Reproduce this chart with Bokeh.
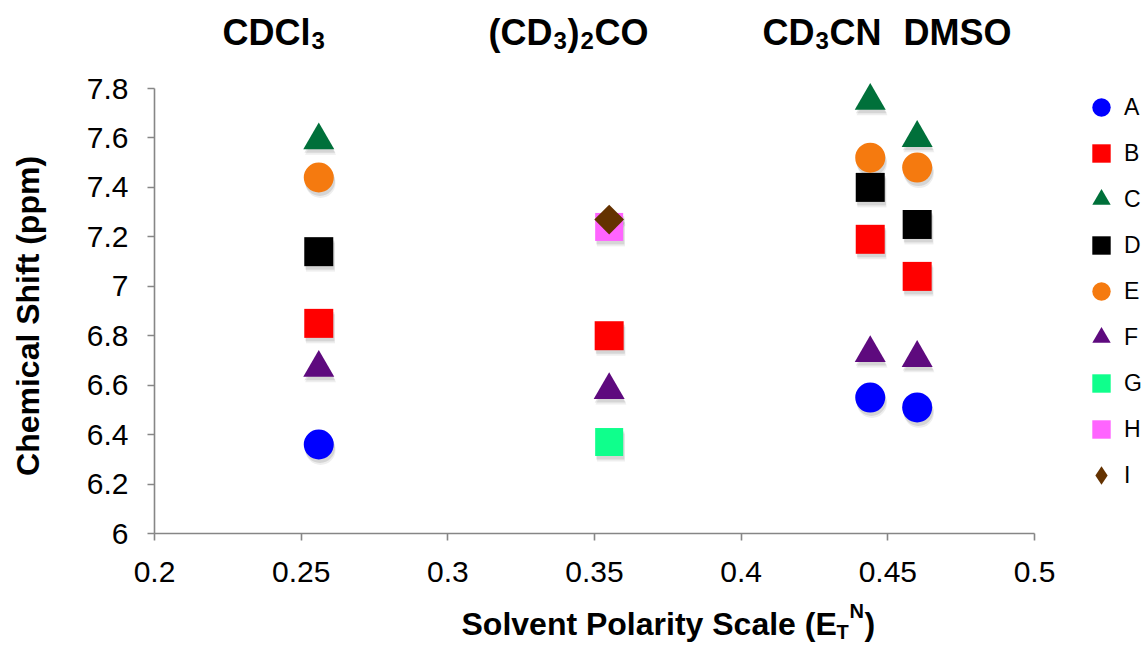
from bokeh.plotting import figure
from bokeh.models import Range1d, FixedTicker, Legend, LegendItem, ColumnDataSource
from bokeh.transform import dodge
from bokeh.embed import file_html
from bokeh.resources import INLINE
from bokeh.core.properties import value
import math

# ---------------- data ----------------
solvents = ["CDCl3", "(CD3)2CO", "CD3CN", "DMSO"]
polarity = [0.256, 0.355, 0.444, 0.460]   # E_T^N of each solvent

series_names = ["A", "B", "C", "D", "E", "F", "G", "H", "I"]
A = [6.36, None, 6.55, 6.51]
B = [6.85, 6.80, 7.19, 7.04]
C = [7.59, None, 7.75, 7.60]
D = [7.14, None, 7.40, 7.25]
E = [7.44, None, 7.52, 7.48]
F = [6.67, 6.58, 6.73, 6.71]
G = [None, 6.37, None, None]
H = [None, 7.24, None, None]
I = [None, 7.27, None, None]
series_values = [A, B, C, D, E, F, G, H, I]

x_ticks = [0.2, 0.25, 0.3, 0.35, 0.4, 0.45, 0.5]
x_tick_labels = ["0.2", "0.25", "0.3", "0.35", "0.4", "0.45", "0.5"]
y_ticks = [6.0, 6.2, 6.4, 6.6, 6.8, 7.0, 7.2, 7.4, 7.6, 7.8]
y_tick_labels = ["6", "6.2", "6.4", "6.6", "6.8", "7", "7.2", "7.4", "7.6", "7.8"]

# ---------------- styles ----------------
colors = ["#0000FF", "#FF0000", "#00703A", "#000000", "#F57A0F",
          "#5E0A7E", "#0FFF8C", "#FF64FF", "#643200"]
markers = ["circle", "square", "triangle", "square", "circle",
           "triangle", "square", "square", "square"]
legend_markers = ["circle", "square", "triangle", "square", "circle",
                  "triangle", "square", "square", "diamond"]
sizes = [30, 29, 31, 29, 30, 31, 28, 28, 21]
angles = [0, 0, 0, 0, 0, 0, 0, 0, math.pi / 4]

# layout geometry (page pixels)
W, H_ = 1144, 660
FL, FR, FT, FB = 154, 1034, 88, 533          # where 0.2 / 0.5 / 7.8 / 6 sit
X0, X1 = 0.2, 0.5
Y0, Y1 = 6.0, 7.8
x_end = X0 + (X1 - X0) * (W - FL) / (FR - FL)   # frame extends to the right edge (legend area)

p = figure(width=W, height=H_, output_backend="svg", toolbar_location=None,
           x_range=Range1d(X0, x_end), y_range=Range1d(Y0, Y1),
           min_border_left=FL, min_border_right=0,
           min_border_top=FT, min_border_bottom=H_ - FB)
p.outline_line_color = None
p.xgrid.visible = False
p.ygrid.visible = False
p.background_fill_color = "white"
p.border_fill_color = "white"

axis_col = "#868686"
for ax in (p.xaxis, p.yaxis):
    ax.axis_line_color = axis_col
    ax.axis_line_width = 1.6
    ax.major_tick_line_color = axis_col
    ax.major_tick_line_width = 1.6
    ax.major_tick_out = 7
    ax.major_tick_in = 0
    ax.minor_tick_line_color = None
    ax.major_label_text_font = "Liberation Sans"
    ax.major_label_text_font_size = "30px"
    ax.major_label_text_color = "black"

p.xaxis.bounds = (X0, X1)
p.xaxis.ticker = FixedTicker(ticks=x_ticks)
p.xaxis.major_label_overrides = {t: l for t, l in zip(x_ticks, x_tick_labels)}
p.xaxis.major_label_standoff = 21
p.yaxis.ticker = FixedTicker(ticks=y_ticks)
p.yaxis.major_label_overrides = {t: l for t, l in zip(y_ticks, y_tick_labels)}
p.yaxis.major_label_standoff = 19

# ---------------- markers ----------------
sources = []
for name, vals in zip(series_names, series_values):
    xs = [x for x, v in zip(polarity, vals) if v is not None]
    ys = [v for v in vals if v is not None]
    sources.append(ColumnDataSource(data=dict(x=xs, y=ys)))

# soft drop shadows
for (dxs, dys, alpha) in [(0.0006, -0.022, 0.10), (0.0004, -0.014, 0.16)]:
    for src, mk, sz, ang in zip(sources, markers, sizes, angles):
        p.scatter(x=dodge("x", dxs, range=p.x_range), y=dodge("y", dys, range=p.y_range),
                  source=src, marker=mk, size=sz, angle=ang,
                  fill_color="#555555", fill_alpha=alpha, line_color=None, level="overlay")

renderers = []
for src, mk, sz, ang, col in zip(sources, markers, sizes, angles, colors):
    r = p.scatter(x="x", y="y", source=src, marker=mk, size=sz, angle=ang,
                  fill_color=col, line_color=None, level="overlay")
    renderers.append(r)

# legend swatches (legend glyphs ignore marker rotation, so the diamond swatch is its own
# zero-size glyph on the same data)
legend_renderers = []
for src, r, lm, col, mk in zip(sources, renderers, legend_markers, colors, markers):
    if lm == mk:
        legend_renderers.append(r)
    else:
        sw = p.scatter(x="x", y="y", source=src, marker=lm, size=0,
                       fill_color=col, line_color=None)
        legend_renderers.append(sw)

legend = Legend(items=[LegendItem(label=n, renderers=[r]) for n, r in zip(series_names, legend_renderers)],
                location=(1078 - FL, 35), orientation="vertical",
                glyph_width=46, glyph_height=46, spacing=0, padding=0, margin=0,
                label_standoff=0, label_text_font="Liberation Sans",
                label_text_font_size="23px", label_text_color="black", label_height=46,
                border_line_color=None, background_fill_alpha=0)
p.add_layout(legend)


# ---------------- text (titles & axis labels) ----------------
def dxp(px):
    return X0 + (px - FL) / (FR - FL) * (X1 - X0)


def dyp(py):
    return Y0 + (FB - py) / (FB - FT) * (Y1 - Y0)


def add_texts(pieces, align="left", baseline="alphabetic", angle=0.0):
    for t, px, py, s in pieces:
        p.text(x=[dxp(px)], y=[dyp(py)], text=[t], text_font=value("Liberation Sans"),
               text_font_size=value(f"{s}px"), text_font_style="bold", text_color="black",
               text_align=align, text_baseline=baseline, angle=angle, level="overlay")


# solvent titles with subscripts
title_pieces = [
    ("CDCl", 222, 32, 36), ("3", 311, 40, 24),
    ("(CD", 488, 32, 36), ("3", 553, 40, 24), (")", 567, 32, 36), ("2", 580, 40, 24), ("CO", 594, 32, 36),
    ("CD", 762, 32, 36), ("3", 815, 40, 24), ("CN", 829, 32, 36),
    ("DMSO", 903, 32, 36),
]
add_texts(title_pieces)

# x axis label: Solvent Polarity Scale (E_T^N)
xl_pieces = [
    ("Solvent Polarity Scale (E", 461, 623, 32),
    ("T", 836, 631, 20),
    ("N", 849, 610, 20),
    (")", 864, 623, 32),
]
add_texts(xl_pieces)

# y axis label
add_texts([("Chemical  Shift (ppm)", 27, 311, 32)], align="center", baseline="middle",
          angle=math.pi / 2)

open("out.html", "w").write(file_html(p, INLINE))
